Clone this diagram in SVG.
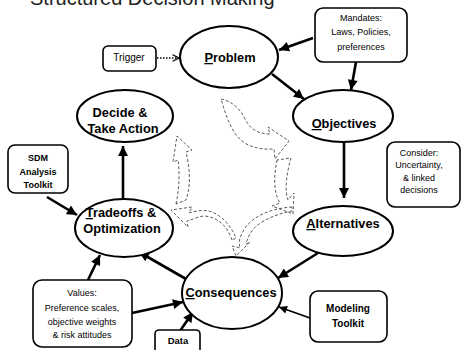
<svg xmlns="http://www.w3.org/2000/svg" width="461" height="350" viewBox="0 0 461 350">
  <defs>
    <style>
      .node ellipse { fill: #ffffff; stroke: #000000; stroke-width: 2; }
      .box rect { fill: #ffffff; stroke: #000000; stroke-width: 1.6; }
      .lbl { font-family: "Liberation Sans", Arial, sans-serif; font-weight: bold; font-size: 12.8px; fill: #000; text-anchor: middle; }
      .note { font-family: "Liberation Sans", Arial, sans-serif; font-size: 9px; fill: #000; text-anchor: middle; }
      .notebold { font-family: "Liberation Sans", Arial, sans-serif; font-weight: bold; font-size: 9.5px; fill: #000; text-anchor: middle; }
      .conn line { stroke: #000; stroke-width: 2.6; fill: none; }
      .conn line.thin { stroke-width: 1.8; }
      .conn line.dotted { stroke-width: 1.3; stroke-dasharray: 1.5 1.5; }
      .cycle path { fill: none; stroke: #4a4a4a; stroke-width: 0.9; stroke-dasharray: 3 2; }
      .title { font-family: "Liberation Sans", Arial, sans-serif; font-size: 20px; fill: #222; }
    </style>
    <marker id="head" viewBox="0 0 10 10" refX="10" refY="5" markerWidth="11" markerHeight="10" markerUnits="userSpaceOnUse" orient="auto">
      <path d="M0,0 L10,5 L0,10 z" fill="#000"/>
    </marker>
    <marker id="headSmall" viewBox="0 0 10 10" refX="10" refY="5" markerWidth="9" markerHeight="8" markerUnits="userSpaceOnUse" orient="auto">
      <path d="M0,0 L10,5 L0,10 z" fill="#000"/>
    </marker>
    <marker id="openHead" viewBox="0 0 10 10" refX="9" refY="5" markerWidth="8" markerHeight="9" markerUnits="userSpaceOnUse" orient="auto">
      <path d="M1,1 L9,5 L1,9" fill="none" stroke="#000" stroke-width="1.6"/>
    </marker>
  </defs>

  <rect x="0" y="0" width="461" height="350" fill="#ffffff"/>

  <!-- heading, running off the top edge -->
  <text class="title" x="30" y="5">Structured Decision Making</text>

  <!-- central cycle of dashed curved arrows -->
  <g id="cycle" class="cycle">
    <path d="M221,99 C231,101 240,108 245,119 C250,129 258,134 270,134 L268,127 L289,141 L275,159 L274,149 C258,150 245,146 237,136 C229,126 225,112 221,99 Z"/>
    <path d="M277,160 C274,175 273,192 280,203 L272,206 L293,214 L294,193 L288,200 C284,190 287,172 291,158 Z"/>
    <path d="M292,207 C275,208 255,214 245,228 C240,236 238,242 240,248 L232,246 L236,256 L250,242 L246,244 C248,236 252,228 262,222 C272,216 282,213 292,211 Z"/>
    <path d="M232,240 C228,228 220,218 205,216 C198,216 192,220 187,221 L188,227 L171,210 L192,207 L189,213 C196,211 204,209 212,212 C224,217 232,228 236,238 Z"/>
    <path d="M176,204 C179,190 180,175 178,160 L173,162 L177,136 L192,150 L186,152 C190,168 191,186 186,200 Z"/>
  </g>

  <!-- connectors -->
  <g id="connectors" class="conn">
    <line class="dotted" x1="157" y1="58" x2="179" y2="58" marker-end="url(#openHead)"/>
    <line x1="272" y1="74" x2="304" y2="99" marker-end="url(#head)"/>
    <line x1="313" y1="38" x2="279" y2="50" marker-end="url(#head)"/>
    <line x1="356" y1="62" x2="351" y2="90" marker-end="url(#head)"/>
    <line x1="344" y1="142" x2="344" y2="198" marker-end="url(#head)"/>
    <line x1="318" y1="253" x2="278" y2="278" marker-end="url(#head)"/>
    <line class="thin" x1="310" y1="318" x2="279" y2="307" marker-end="url(#headSmall)"/>
    <line x1="180" y1="331" x2="193" y2="312" marker-end="url(#head)"/>
    <line x1="132" y1="313" x2="183" y2="302" marker-end="url(#head)"/>
    <line x1="88" y1="280" x2="100" y2="255" marker-end="url(#head)"/>
    <line x1="186" y1="279" x2="139" y2="252" marker-end="url(#head)"/>
    <line x1="47" y1="197" x2="77" y2="215" marker-end="url(#head)"/>
    <line x1="123" y1="199" x2="123" y2="146" marker-end="url(#head)"/>
  </g>

  <!-- process steps -->
  <g id="problem" class="node">
    <ellipse cx="229" cy="57" rx="49" ry="31"/>
    <text class="lbl" x="230" y="62"><tspan text-decoration="underline">P</tspan>roblem</text>
  </g>
  <g id="objectives" class="node">
    <ellipse cx="343" cy="116" rx="50" ry="26"/>
    <text class="lbl" x="344" y="128"><tspan text-decoration="underline">O</tspan>bjectives</text>
  </g>
  <g id="alternatives" class="node">
    <ellipse cx="343" cy="231" rx="50" ry="25"/>
    <text class="lbl" x="343" y="228"><tspan text-decoration="underline">A</tspan>lternatives</text>
  </g>
  <g id="consequences" class="node">
    <ellipse cx="232" cy="293" rx="50" ry="36"/>
    <text class="lbl" x="231" y="297"><tspan text-decoration="underline">C</tspan>onsequences</text>
  </g>
  <g id="tradeoffs" class="node">
    <ellipse cx="124" cy="228" rx="49" ry="29"/>
    <text class="lbl" x="121" y="217"><tspan text-decoration="underline">T</tspan>radeoffs &amp;</text>
    <text class="lbl" x="122" y="233">Optimization</text>
  </g>
  <g id="decide" class="node">
    <ellipse cx="125" cy="116" rx="48" ry="26"/>
    <text class="lbl" x="120" y="117">Decide &amp;</text>
    <text class="lbl" x="123" y="133">Take Action</text>
  </g>

  <!-- inputs and notes -->
  <g id="trigger" class="box">
    <rect x="103" y="46" width="53" height="25" rx="5"/>
    <text class="note" x="129" y="61" style="font-size:10px">Trigger</text>
  </g>
  <g id="mandates" class="box">
    <rect x="315" y="8" width="92" height="54" rx="8"/>
    <text class="note" x="361" y="21">Mandates:</text>
    <text class="note" x="361" y="35">Laws, Policies,</text>
    <text class="note" x="361" y="50">preferences</text>
  </g>
  <g id="consider" class="box">
    <rect x="387" y="142" width="73" height="65" rx="8"/>
    <text class="note" x="419" y="156">Consider:</text>
    <text class="note" x="419" y="168">Uncertainty,</text>
    <text class="note" x="419" y="181">&amp; linked</text>
    <text class="note" x="419" y="193">decisions</text>
  </g>
  <g id="sdm-toolkit" class="box">
    <rect x="8" y="145" width="60" height="48" rx="7"/>
    <text class="notebold" x="38" y="161" style="font-size:9px">SDM</text>
    <text class="notebold" x="38" y="175" style="font-size:9px">Analysis</text>
    <text class="notebold" x="38" y="188" style="font-size:9px">Toolkit</text>
  </g>
  <g id="values" class="box">
    <rect x="33" y="280" width="99" height="67" rx="9"/>
    <text class="note" x="82" y="296">Values:</text>
    <text class="note" x="82" y="311">Preference scales,</text>
    <text class="note" x="82" y="325">objective weights</text>
    <text class="note" x="82" y="338">&amp; risk attitudes</text>
  </g>
  <g id="data" class="box">
    <rect x="155" y="330" width="45" height="26" rx="4"/>
    <text class="notebold" x="178" y="344">Data</text>
  </g>
  <g id="modeling-toolkit" class="box">
    <rect x="310" y="291" width="77" height="51" rx="8"/>
    <text class="notebold" x="348" y="312" style="font-size:10px">Modeling</text>
    <text class="notebold" x="348" y="327" style="font-size:10px">Toolkit</text>
  </g>
</svg>
